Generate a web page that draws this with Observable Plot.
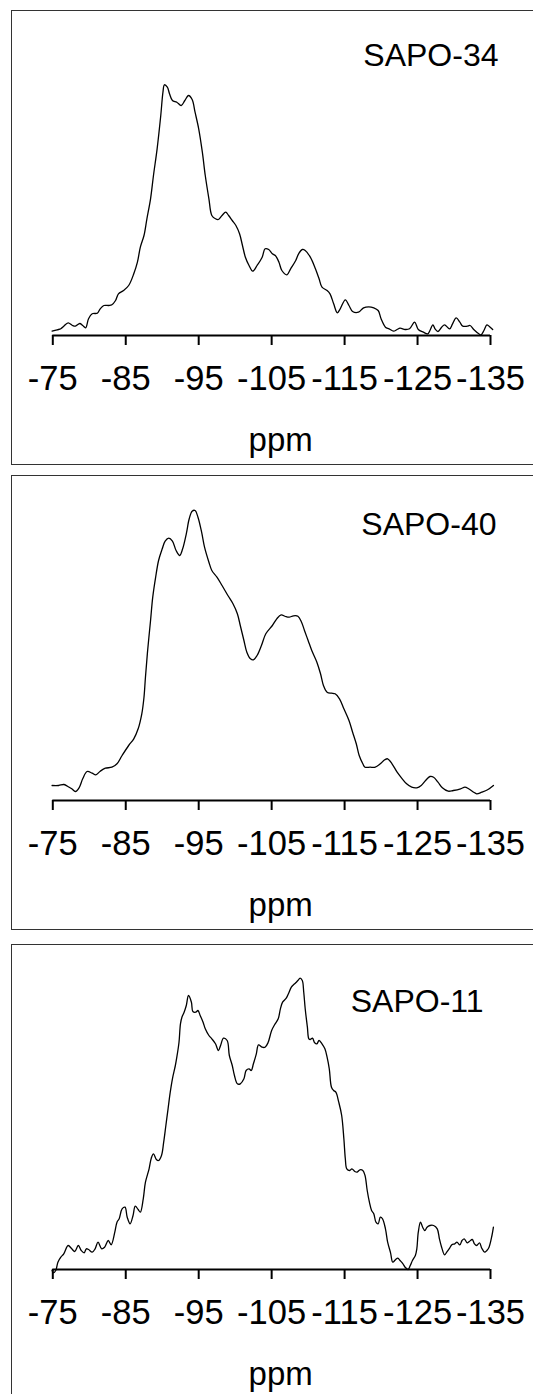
<!DOCTYPE html>
<html>
<head>
<meta charset="utf-8">
<script src="https://cdn.jsdelivr.net/npm/d3@7"></script>
<script src="https://cdn.jsdelivr.net/npm/@observablehq/plot@0.6"></script>
<style>
  html, body { margin: 0; padding: 0; background: #fff; overflow: hidden; }
  #root { position: relative; width: 533px; height: 1394px; overflow: hidden; }
  .panel { position: absolute; left: 11px; width: 530px; height: 453px; border: 1px solid #333; background: #fff; }
  .panel svg { display: block; }
</style>
</head>
<body>
<div id="root"></div>
<script>
// ---- data ----
const tickValues = [-75, -85, -95, -105, -115, -125, -135];
const panelNames = ["SAPO-34", "SAPO-40", "SAPO-11"];
const axisTitle = "ppm";

// SAPO-34: chemical shift (ppm) and intensity (a.u.)
const sapo34Ppm = [-74.9,-75.6,-76.1,-76.5,-77.1,-77.7,-78.1,-78.7,-79.1,-79.5,
  -79.9,-80.4,-81.1,-81.5,-82.0,-82.7,-83.1,-83.6,-84.0,-84.7,
  -85.4,-86.1,-86.6,-87.0,-87.5,-87.9,-88.4,-88.8,-89.3,-89.8,
  -90.1,-90.3,-90.7,-91.0,-91.4,-92.0,-92.6,-93.1,-93.6,-94.1,
  -94.5,-95.0,-95.5,-95.9,-96.4,-96.8,-97.3,-97.7,-98.2,-98.7,
  -99.1,-99.6,-100.1,-100.6,-101.0,-101.4,-101.9,-102.4,-103.0,-103.7,
  -104.1,-104.6,-105.1,-105.5,-106.0,-106.4,-107.1,-107.6,-108.3,-108.7,
  -109.2,-109.6,-110.3,-111.0,-111.5,-111.9,-112.6,-113.0,-113.5,-114.0,
  -114.4,-115.1,-115.6,-116.1,-116.9,-117.6,-118.3,-119.0,-119.6,-120.0,
  -120.6,-121.1,-121.7,-122.2,-122.6,-123.3,-123.9,-124.6,-125.1,-125.8,
  -126.4,-126.7,-127.1,-127.4,-127.8,-128.3,-128.7,-129.4,-129.8,-130.3,
  -130.8,-131.2,-131.8,-132.2,-132.7,-133.4,-133.7,-134.1,-134.5,-134.8,-135.3];
const sapo34Int = [4.3,5.7,6.7,9.3,12.7,10,9.3,12,10,7.7,
  16.7,21.7,22.3,26.7,30,30,30.7,35,41.7,45,
  50,61.7,73.3,88.3,100,116.7,136.7,160,186.7,220,
  243.3,250.7,248.3,241.7,235,233.3,230,235,240,236,
  223.3,206.7,183.3,160,136.7,120,116.7,116,120,123.3,
  120,115,110,101.7,90,78.3,70,64.3,70,78.3,
  86.7,86,81.7,80,73.3,65,60.7,66.7,75,81.7,
  86,85,78.3,66.7,56.7,48.3,45,41.7,31.7,22.7,
  26.7,35.7,30,24,23.3,27.7,28.7,27.7,25,16.7,
  8.3,6.7,4.3,6,7.3,6,6.7,13.3,6,3.3,
  1.7,5,10.7,6.7,4,8.3,10.7,6.7,11.7,17.7,
  13.3,9.3,9.3,10,6,1.7,0.7,5,10.7,9.3,6];

// SAPO-40
const sapo40Ppm = [-74.9,-75.8,-76.5,-77.0,-77.6,-78.1,-78.6,-79.1,-79.7,-80.4,
  -80.9,-81.5,-82.2,-83.1,-83.8,-84.5,-85.4,-86.1,-86.7,-87.2,
  -87.5,-87.7,-88.0,-88.4,-88.7,-89.1,-89.5,-90.0,-90.4,-90.9,
  -91.4,-91.9,-92.4,-92.8,-93.3,-93.7,-94.1,-94.5,-94.9,-95.4,
  -95.8,-96.4,-96.8,-97.5,-98.2,-99.0,-99.7,-100.3,-100.7,-101.2,
  -101.6,-102.1,-102.5,-103.0,-103.6,-104.2,-105.1,-105.7,-106.3,-106.9,
  -107.4,-108.0,-108.6,-109.1,-109.5,-110.0,-110.5,-111.2,-111.7,-112.1,
  -112.6,-113.2,-113.7,-114.3,-114.9,-115.6,-116.1,-116.6,-117.0,-117.5,
  -117.8,-118.5,-119.2,-119.9,-120.5,-120.9,-121.5,-122.2,-122.9,-123.5,
  -124.2,-124.9,-125.5,-126.1,-126.7,-127.2,-127.8,-128.4,-129.2,-129.9,
  -130.9,-131.5,-132.0,-132.7,-133.1,-133.8,-134.6,-135.4];
const sapo40Int = [15,15,16,14.3,11.7,9,12.7,21.7,29,27.3,
  25.7,29.3,32.3,33.3,36.7,45,55,61.7,71.7,86.7,
  103.3,123.3,150,180,203.3,223.3,240,251.7,259.3,262.3,
  259.3,250,245,251.7,266.7,281.7,289.3,290,283.3,268.3,
  253.3,238.3,230,223.3,215,205,196.7,186.7,175,160,
  148.3,141.7,140.7,145,155,166.7,175,181.7,185.7,184,
  183.3,184.7,184.3,178.3,170,160,150,138.3,126.7,115,
  108.3,107.3,106.7,101.7,91.7,80,68.3,56.7,45,36.7,
  33.3,33.3,33.3,36.7,40.7,41.7,36.7,28.3,21.7,16.7,
  13.3,12.7,15,20,24,23.3,18.3,12.7,9.3,10,
  11.7,13.3,11.7,8.3,6.7,8.3,10.7,15];

// SAPO-11
const sapo11Ppm = [-74.9,-75.1,-75.4,-75.7,-76.1,-76.5,-77.1,-77.6,-78.0,-78.5,
  -78.9,-79.3,-79.6,-79.9,-80.4,-80.8,-81.2,-81.7,-82.1,-82.6,
  -83.0,-83.5,-83.8,-84.1,-84.5,-84.9,-85.2,-85.6,-86.0,-86.3,
  -86.7,-87.0,-87.4,-87.7,-88.2,-88.5,-88.8,-89.2,-89.5,-89.9,
  -90.2,-90.5,-90.8,-91.1,-91.4,-91.8,-92.0,-92.3,-92.5,-92.7,
  -93.0,-93.3,-93.6,-94.0,-94.2,-94.6,-94.9,-95.2,-95.6,-95.9,
  -96.4,-96.8,-97.3,-97.7,-98.0,-98.4,-98.9,-99.2,-99.6,-99.9,
  -100.3,-100.7,-101.2,-101.5,-101.9,-102.2,-102.5,-102.9,-103.2,-103.7,
  -104.1,-104.5,-105.0,-105.4,-105.9,-106.2,-106.5,-107.0,-107.3,-107.7,
  -108.0,-108.3,-108.6,-108.9,-109.2,-109.4,-109.6,-109.9,-110.1,-110.3,
  -110.6,-110.9,-111.2,-111.5,-111.9,-112.3,-112.6,-112.9,-113.2,-113.5,
  -113.8,-114.2,-114.6,-114.9,-115.1,-115.3,-115.7,-116.0,-116.4,-116.7,
  -117.1,-117.5,-117.8,-118.1,-118.4,-118.7,-119.0,-119.3,-119.6,-119.9,
  -120.2,-120.6,-120.9,-121.3,-121.6,-122.0,-122.3,-122.6,-123.0,-123.3,
  -123.7,-124.0,-124.3,-124.7,-124.9,-125.1,-125.4,-125.7,-126.0,-126.3,
  -126.7,-127.2,-127.7,-128.0,-128.3,-128.7,-129.0,-129.4,-129.7,-130.1,
  -130.4,-130.8,-131.1,-131.4,-131.8,-132.1,-132.5,-132.8,-133.1,-133.5,
  -133.8,-134.2,-134.5,-134.8,-135.2,-135.4];
const sapo11Int = [-1,-3.3,-1,7.3,12.3,15.7,24,20.7,18,24,
  19,16.7,20.7,20,17.3,20.7,27.3,20.7,22.3,29,
  24.7,37.3,47.3,50.7,60.7,62.3,52.3,45.7,54,63.3,
  60,57.3,70.7,87.3,100.7,111.3,115.7,110,109,114,
  127.3,144,160.7,177.3,190.7,204,212.3,227.3,245.7,252.3,
  257.3,264,274,267.3,258,257.3,259,254,247.3,240.7,
  234,230.7,225.7,219,224,231.3,229,214,204,194,
  185.7,185.7,190.7,199,200.7,199,205.7,215.7,224.7,222.3,
  222.3,226.7,239,244.7,250.7,260.7,267.3,271.3,275.7,282.3,
  284.7,286.7,289,291.3,289,277.3,260.7,242.3,230.7,230,
  231.3,226.7,225.7,229,225.7,220.7,212.3,200.7,182.3,179,
  177.3,167.3,154,130.7,110.7,100.7,99,100.7,98,97.3,
  99.7,99,94,79,67.3,59,55.7,47.3,45.7,52.3,
  50.7,40.7,27.3,16.7,7.3,10,11.3,9,5.7,2.3,
  0,4,9,14,20.7,37.3,47.3,42.3,39,42.3,
  44,44,40.7,30.7,22.3,14.7,17.3,21.3,24.7,25.7,
  27.3,24.7,29,30.7,26.7,28,30,25.7,24,26.7,
  21.3,17.3,19,22.3,34,42.3];

// ---- layout (positions / styles, kept apart from data) ----
const FONT = "'Liberation Sans', Arial, Helvetica, sans-serif";
const panelTops = [10, 475, 944];
const labelShift = [{dx: 8, dy: 20}, {dx: 6, dy: 24}, {dx: -7, dy: 32}];
const series = [
  {ppm: sapo34Ppm, val: sapo34Int},
  {ppm: sapo40Ppm, val: sapo40Int},
  {ppm: sapo11Ppm, val: sapo11Int}
];

const root = document.getElementById("root");

panelNames.forEach((name, i) => {
  const rows = series[i].ppm.map((p, k) => ({ppm: p, intensity: series[i].val[k]}));
  const chart = Plot.plot({
    width: 530,
    height: 453,
    marginLeft: 40.3,
    marginRight: 52,
    marginTop: 24,
    marginBottom: 129,
    x: {domain: [tickValues[0], tickValues[tickValues.length - 1]]},
    y: {domain: [0, 300], axis: null},
    style: {fontFamily: FONT, background: "white", color: "black", overflow: "visible"},
    marks: [
      Plot.ruleY([0], {x1: tickValues[0], x2: tickValues[tickValues.length - 1], stroke: "black", strokeWidth: 2}),
      Plot.axisX(tickValues, {
        tickSize: 10, tickPadding: 20, strokeWidth: 2,
        tickFormat: d => String(d), fontSize: 34.5, label: null
      }),
      Plot.line(rows, {x: "ppm", y: "intensity", curve: "catmull-rom", stroke: "black", strokeWidth: 1.3}),
      Plot.text([name], {text: d => d, frameAnchor: "top-right", textAnchor: "end", lineAnchor: "middle",
        dx: labelShift[i].dx, dy: labelShift[i].dy, fontSize: 32, fill: "black"}),
      Plot.text([axisTitle], {text: d => d, frameAnchor: "bottom", lineAnchor: "middle",
        dx: 9, dy: 105, fontSize: 33, fill: "black"})
    ]
  });
  const div = document.createElement("div");
  div.className = "panel";
  div.style.top = panelTops[i] + "px";
  div.appendChild(chart);
  root.appendChild(div);
});
</script>
</body>
</html>
